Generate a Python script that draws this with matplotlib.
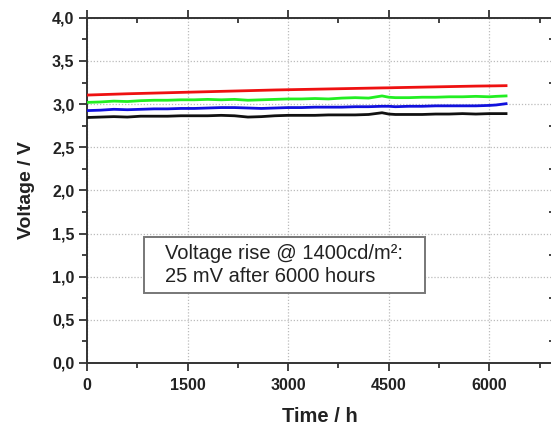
import matplotlib
matplotlib.use("Agg")
import matplotlib.pyplot as plt
from matplotlib.patches import Rectangle
from matplotlib.ticker import MultipleLocator, FuncFormatter

# Lifetime test: operating voltage of four devices vs. time
time_h = [0, 200, 400, 600, 800, 1000, 1200, 1400, 1600, 1800, 2000, 2200,
          2400, 2600, 2800, 3000, 3200, 3400, 3600, 3800, 4000, 4200, 4400,
          4500, 4600, 4800, 5000, 5200, 5400, 5600, 5800, 6000, 6100, 6250]

v_red = [3.105, 3.110, 3.115, 3.120, 3.124, 3.128, 3.132, 3.136, 3.140, 3.144,
         3.148, 3.152, 3.156, 3.160, 3.164, 3.167, 3.170, 3.173, 3.176, 3.179,
         3.182, 3.185, 3.188, 3.189, 3.191, 3.194, 3.197, 3.200, 3.203, 3.206,
         3.209, 3.211, 3.212, 3.214]

v_green = [3.020, 3.025, 3.035, 3.030, 3.040, 3.045, 3.045, 3.050, 3.050, 3.055,
           3.050, 3.055, 3.045, 3.050, 3.055, 3.060, 3.060, 3.065, 3.060, 3.070,
           3.075, 3.070, 3.095, 3.080, 3.075, 3.075, 3.080, 3.080, 3.085, 3.085,
           3.090, 3.085, 3.090, 3.095]

v_blue = [2.925, 2.930, 2.940, 2.935, 2.940, 2.945, 2.945, 2.950, 2.950, 2.955,
          2.960, 2.960, 2.955, 2.950, 2.955, 2.960, 2.960, 2.965, 2.965, 2.965,
          2.970, 2.970, 2.975, 2.975, 2.970, 2.975, 2.975, 2.980, 2.980, 2.980,
          2.980, 2.985, 2.990, 3.005]

v_black = [2.845, 2.850, 2.855, 2.850, 2.860, 2.860, 2.860, 2.865, 2.865, 2.865,
           2.870, 2.865, 2.850, 2.855, 2.865, 2.870, 2.870, 2.870, 2.875, 2.875,
           2.875, 2.880, 2.900, 2.885, 2.880, 2.880, 2.880, 2.885, 2.885, 2.890,
           2.885, 2.890, 2.890, 2.890]

series = [(v_red, "#ee1111"), (v_green, "#22ee22"), (v_blue, "#1111dd"), (v_black, "#111111")]

note = "Voltage rise @ 1400cd/m\u00b2:\n25 mV after 6000 hours"

plt.rcParams["font.family"] = ["Liberation Sans", "DejaVu Sans"]

fig = plt.figure(figsize=(5.51, 4.25), dpi=100)
ax = fig.add_axes([0.158, 0.146, 0.8468, 0.812])

for vals, col in series:
    ax.plot(time_h, vals, color=col, lw=2.0, zorder=3)

ax.set_xlim(0, 6960)
ax.set_ylim(0, 4.0)

ax.xaxis.set_major_locator(MultipleLocator(1500))
ax.xaxis.set_minor_locator(MultipleLocator(750))
ax.yaxis.set_major_locator(MultipleLocator(0.5))
ax.yaxis.set_minor_locator(MultipleLocator(0.25))
ax.yaxis.set_major_formatter(FuncFormatter(lambda v, p: f"{v:.1f}".replace(".", ",")))

ax.grid(True, which="major", color="#bbbbbb", linestyle=(0, (1, 1.5)), lw=0.9, zorder=1)

spine_col = "#333333"
for s in ax.spines.values():
    s.set_color(spine_col)
    s.set_linewidth(1.4)

ax.tick_params(which="both", colors=spine_col, width=1.3)
ax.tick_params(which="major", length=6)
ax.tick_params(which="minor", length=3.5)
ax.tick_params(axis="both", which="both", direction="out", bottom=True, left=True)
ax.tick_params(axis="x", which="both", top=True, labeltop=False)
ax.tick_params(axis="y", which="both", right=True, labelright=False)
for t in ax.xaxis.get_ticklines(minor=False)[1::2] + ax.xaxis.get_ticklines(minor=True)[1::2]:
    t.set_marker(3)  # top ticks point inward
for t in ax.yaxis.get_ticklines(minor=False)[1::2] + ax.yaxis.get_ticklines(minor=True)[1::2]:
    t.set_marker(0)  # right ticks point inward

for lab in ax.get_xticklabels() + ax.get_yticklabels():
    lab.set_fontweight("bold")
    lab.set_fontsize(11.5)
    lab.set_color("#222222")
ax.tick_params(axis="x", pad=5)
ax.tick_params(axis="y", pad=3)

ax.set_xlabel("Time / h", fontsize=14.5, fontweight="bold", color="#222222", labelpad=10)
ax.set_ylabel("Voltage / V", fontsize=14, fontweight="bold", color="#222222", labelpad=12)

# annotation box with the voltage-rise note
ax.add_patch(Rectangle((850, 0.81), 4195, 0.65, fc="white", ec="#777777", lw=1.4, zorder=4))
ax.text(1165, 1.135, note, fontsize=14.5, color="#222222", va="center", ha="left",
        linespacing=1.25, zorder=5)

fig.savefig("out.png", dpi=100)
